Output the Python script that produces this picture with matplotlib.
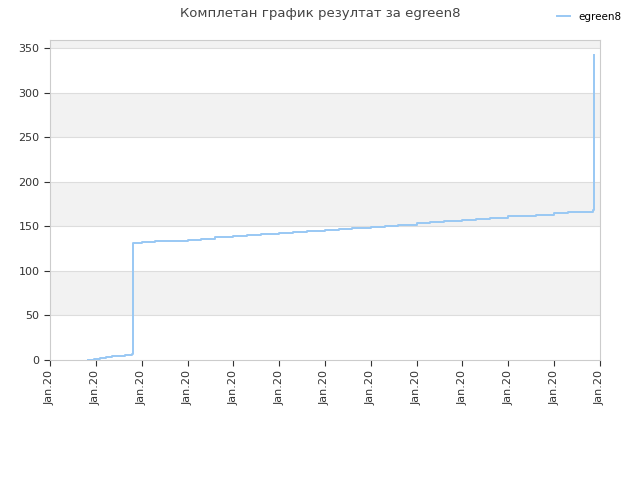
import matplotlib.pyplot as plt
import numpy as np

# tick positions are evenly spaced, all labelled "Jan.20"
tick_labels = ["Jan.20"] * 13

# step points (x in tick units)
step_x = [0.83, 0.95, 1.08, 1.22, 1.36, 1.50, 1.64, 1.78, 1.81,
          2.0, 2.3, 2.6, 3.0, 3.3, 3.6, 4.0, 4.3, 4.6, 5.0, 5.3, 5.6,
          6.0, 6.3, 6.6, 7.0, 7.3, 7.6, 8.0, 8.3, 8.6, 9.0, 9.3, 9.6,
          10.0, 10.3, 10.6, 11.0, 11.3, 11.6, 11.84,
          11.86, 11.87]
step_y = [0, 1, 2, 3, 4, 5, 6, 7, 131,
          132, 133, 134, 135, 136, 137.5, 139, 140, 141, 142.5, 143.5, 144.5,
          146, 147, 148, 149.5, 150.5, 152, 153.5, 154.5, 156, 157.5, 158.5, 159.5,
          161, 162, 163, 164.5, 165.5, 166.5, 168,
          188, 342]

LINE_COLOR = "#99c8f4"

fig = plt.figure(figsize=(6.4, 4.8), dpi=100)
ax = fig.add_axes([50 / 640, 120 / 480, 550 / 640, 320 / 480])

ymax = 359
ax.set_xlim(0, 12)
ax.set_ylim(0, ymax)

# alternating horizontal bands
bands = list(range(0, 400, 50))
for i, b in enumerate(bands):
    if i % 2 == 1:
        ax.axhspan(b, min(b + 50, ymax), color="#f2f2f2", zorder=0, lw=0)
for b in bands[1:]:
    if b <= 350:
        ax.axhline(b, color="#dddddd", lw=0.8, zorder=1)

ax.step(step_x, step_y, where="post", color=LINE_COLOR, lw=1.4, zorder=3,
        label="egreen8")

ax.set_xticks(np.arange(13))
ax.set_xticklabels(tick_labels, rotation=90, fontsize=8, color="#333333")
ax.set_yticks(range(0, 351, 50))
ax.tick_params(axis="y", labelsize=8, colors="#333333", length=4)
ax.tick_params(axis="x", length=4, colors="#333333")
for t in ax.get_xticklines() + ax.get_yticklines():
    t.set_color("#cccccc")
for s in ax.spines.values():
    s.set_color("#cccccc")

fig.suptitle("Комплетан график резултат за egreen8", x=0.5, y=0.985,
             fontsize=9.5, color="#444444")
fig.legend(loc="upper right", bbox_to_anchor=(0.985, 0.995), frameon=False,
           fontsize=7.5, handlelength=1.2)

fig.savefig("out.png", dpi=100)
